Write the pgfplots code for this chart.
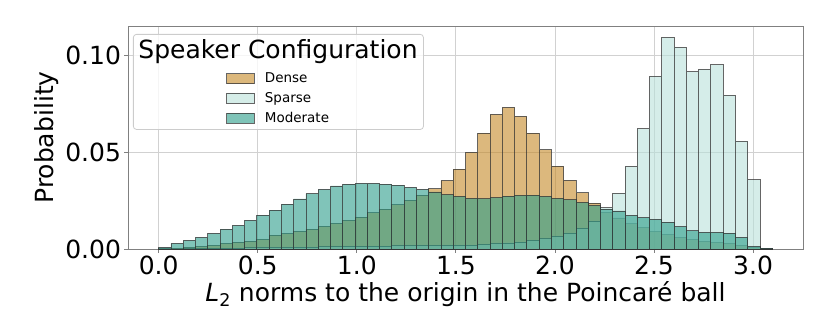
\documentclass[border=0pt]{standalone}
\usepackage{fontspec}
\setmainfont{DejaVu Sans}
\usepackage{pgfplots}
\usepackage{pgfplotstable}
\pgfplotsset{compat=1.18}

\definecolor{densecol}{RGB}{197,137,38}
\definecolor{sparsecol}{RGB}{185,225,218}
\definecolor{modcol}{RGB}{43,157,138}

% bin left edges (50 bins over 0..3.097) and probabilities per bin
\pgfplotstableread{
x      dense   sparse  moderate
0.0000 0.0002  0.0000  0.0009
0.0619 0.0005  0.0000  0.0029
0.1239 0.0009  0.0001  0.0045
0.1858 0.0014  0.0002  0.0060
0.2478 0.0019  0.0003  0.0081
0.3097 0.0029  0.0004  0.0102
0.3716 0.0036  0.0005  0.0122
0.4336 0.0041  0.0006  0.0148
0.4955 0.0050  0.0007  0.0175
0.5575 0.0071  0.0008  0.0201
0.6194 0.0079  0.0009  0.0232
0.6813 0.0091  0.0010  0.0258
0.7433 0.0102  0.0010  0.0285
0.8052 0.0117  0.0011  0.0308
0.8672 0.0132  0.0012  0.0325
0.9291 0.0147  0.0013  0.0335
0.9910 0.0164  0.0014  0.0339
1.0530 0.0186  0.0015  0.0339
1.1149 0.0206  0.0015  0.0334
1.1769 0.0228  0.0016  0.0329
1.2388 0.0251  0.0016  0.0318
1.3007 0.0278  0.0017  0.0308
1.3627 0.0310  0.0018  0.0294
1.4246 0.0352  0.0018  0.0281
1.4866 0.0412  0.0019  0.0271
1.5485 0.0498  0.0020  0.0261
1.6104 0.0598  0.0022  0.0259
1.6724 0.0694  0.0028  0.0265
1.7343 0.0730  0.0031  0.0273
1.7963 0.0684  0.0036  0.0277
1.8582 0.0598  0.0043  0.0278
1.9201 0.0511  0.0052  0.0272
1.9821 0.0427  0.0065  0.0261
2.0440 0.0354  0.0082  0.0253
2.1060 0.0290  0.0106  0.0240
2.1679 0.0237  0.0144  0.0225
2.2298 0.0190  0.0212  0.0206
2.2918 0.0160  0.0287  0.0196
2.3537 0.0130  0.0426  0.0174
2.4157 0.0110  0.0620  0.0162
2.4776 0.0090  0.0890  0.0153
2.5395 0.0075  0.1091  0.0138
2.6015 0.0060  0.1040  0.0115
2.6634 0.0050  0.0914  0.0094
2.7254 0.0040  0.0926  0.0086
2.7873 0.0035  0.0950  0.0086
2.8492 0.0030  0.0792  0.0082
2.9112 0.0020  0.0555  0.0060
2.9731 0.0007  0.0357  0.0014
3.0351 0.0001  0.0004  0.0004
3.0970 0.0000  0.0000  0.0000
}\hist

\begin{document}
\begin{tikzpicture}
\begin{axis}[
  name=ax,
  width=675bp, height=223bp, scale only axis,
  xmin=-0.155, xmax=3.252, ymin=0, ymax=0.115,
  xtick={0,0.5,1,1.5,2,2.5,3},
  ytick={0,0.05,0.1},
  scaled y ticks=false,
  xticklabel style={/pgf/number format/.cd, fixed, fixed zerofill, precision=1},
  yticklabel style={/pgf/number format/.cd, fixed, fixed zerofill, precision=2},
  /pgf/number format/assume math mode=true,
  tick label style={font=\fontsize{25bp}{29bp}\selectfont},
  label style={font=\fontsize{25bp}{29bp}\selectfont},
  xlabel={\textit{L}\textsubscript{2} norms to the origin in the Poincaré ball},
  ylabel={Probability},
  grid=major, grid style={black!18, line width=0.8bp},
  axis line style={black!50, line width=0.8bp},
  tick align=outside, tick pos=left,
  major tick length=3.5bp,
  tick style={black!50, line width=0.8bp},
  legend image code/.code={\draw[#1] (0bp,-5bp) rectangle (27.6bp,5bp);},
  legend cell align=left,
  legend style={at={(axis description cs:0.141,0.675)}, anchor=west,
    draw=none, fill=none, font=\fontsize{13.5bp}{16bp}\selectfont,
    row sep=4.3bp, column sep=8bp},
  hbar/.style={ybar interval, fill opacity=0.6, draw=black!80, draw opacity=0.75, line width=0.9bp},
]
\addplot[hbar, fill=densecol] table[x=x, y=dense] {\hist};
\addlegendentry{Dense}
\addplot[hbar, fill=sparsecol] table[x=x, y=sparse] {\hist};
\addlegendentry{Sparse}
\addplot[hbar, fill=modcol] table[x=x, y=moderate] {\hist};
\addlegendentry{Moderate}

% legend frame and title
\node[draw=black!20, fill=white, fill opacity=0.8, rounded corners=3bp, line width=0.8bp,
  anchor=north west, minimum width=290bp, minimum height=95bp, inner sep=0pt]
  at ([xshift=5bp,yshift=-8bp]axis description cs:0,1) {};
\node[anchor=base, inner sep=0pt, font=\fontsize{25bp}{29bp}\selectfont]
  at ([xshift=150bp,yshift=-32.3bp]axis description cs:0,1) {Speaker Configuration};
\end{axis}
\pgfresetboundingbox
\path ([shift={(-128bp,-83bp)}]ax.south west) rectangle ([shift={(27bp,26bp)}]ax.north east);
\end{tikzpicture}
\end{document}
